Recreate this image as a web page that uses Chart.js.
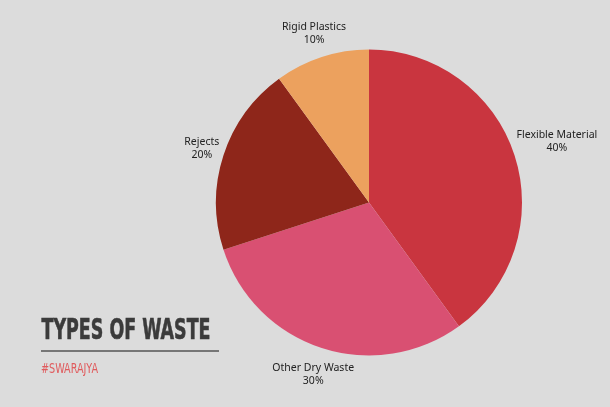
<!DOCTYPE html>
<html>
<head>
<meta charset="utf-8">
<script src="https://cdn.jsdelivr.net/npm/chart.js@4.4.1/dist/chart.umd.min.js"></script>
<style>
  html,body{margin:0;padding:0;background:#dcdcdc;}
  #wrap{position:relative;width:610px;height:407px;}
  #pie{display:block;width:610px;height:407px;}
</style>
</head>
<body>
<div id="wrap"><canvas id="pie" width="610" height="407"></canvas></div>
<script>
// Data
const categories = ['Flexible Material', 'Other Dry Waste', 'Rejects', 'Rigid Plastics'];
const shares = [40, 30, 20, 10];
const sliceColors = ['#c9353f', '#d95072', '#8e261a', '#eca15e'];
const chartTitle = 'TYPES OF WASTE';
const brandTag = '#SWARAJYA';

// labels outside each slice, along its middle angle
const outerLabels = {
  id: 'outerLabels',
  afterDatasetsDraw(chart){
    const ctx = chart.ctx;
    const arcs = chart.getDatasetMeta(0).data;
    ctx.save();
    ctx.font = '10.5px "Noto Sans", "Open Sans", sans-serif';
    ctx.fillStyle = '#222';
    ctx.textAlign = 'center';
    ctx.textBaseline = 'middle';
    arcs.forEach((arc, i) => {
      const p = arc.getProps(['x','y','startAngle','endAngle','outerRadius'], true);
      const mid = (p.startAngle + p.endAngle) / 2;
      const dx = Math.cos(mid), dy = Math.sin(mid);
      const l1 = chart.data.labels[i];
      const l2 = chart.data.datasets[0].data[i] + '%';
      const w = Math.max(ctx.measureText(l1).width, ctx.measureText(l2).width);
      const h = 27;
      const d = p.outerRadius + 2 + Math.abs(dx) * w / 2 + Math.abs(dy) * h / 2;
      const cx = p.x + dx * d, cy = p.y + dy * d;
      ctx.fillText(l1, cx, cy - 6.5);
      ctx.fillText(l2, cx, cy + 7);
    });
    ctx.restore();
  }
};

// title block bottom-left
const titleBlock = {
  id: 'titleBlock',
  afterDraw(chart){
    const ctx = chart.ctx;
    ctx.save();
    ctx.textAlign = 'left';
    ctx.textBaseline = 'alphabetic';
    ctx.fillStyle = '#3b3b3b';
    ctx.strokeStyle = '#3b3b3b';
    ctx.lineWidth = 0.6;
    ctx.font = 'bold 29px "Liberation Sans Narrow", "DejaVu Sans Condensed", sans-serif';
    const tw = ctx.measureText(chartTitle).width;
    ctx.translate(41.5, 338.5);
    ctx.scale(169 / tw, 1);
    ctx.fillText(chartTitle, 0, 0);
    ctx.strokeText(chartTitle, 0, 0);
    ctx.restore();

    ctx.save();
    ctx.strokeStyle = '#555';
    ctx.lineWidth = 1.5;
    ctx.beginPath();
    ctx.moveTo(41, 351);
    ctx.lineTo(219, 351);
    ctx.stroke();

    ctx.fillStyle = '#e05a5c';
    ctx.font = '14px "Liberation Sans Narrow", "DejaVu Sans Condensed", sans-serif';
    const bw = ctx.measureText(brandTag).width;
    ctx.translate(41, 373);
    ctx.scale(57 / bw, 1);
    ctx.fillText(brandTag, 0, 0);
    ctx.restore();
  }
};

new Chart(document.getElementById('pie'), {
  type: 'pie',
  data: {
    labels: categories,
    datasets: [{
      data: shares,
      backgroundColor: sliceColors,
      borderWidth: 0
    }]
  },
  options: {
    responsive: false,
    animation: false,
    layout: { padding: { top: 49, bottom: 51, left: 216, right: 88 } },
    plugins: { legend: { display: false }, tooltip: { enabled: false } }
  },
  plugins: [outerLabels, titleBlock]
});
</script>
</body>
</html>
